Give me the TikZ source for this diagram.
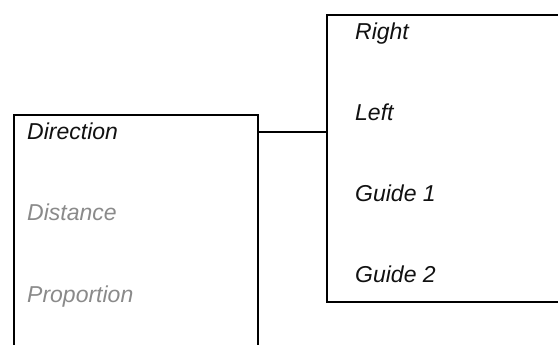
\documentclass[tikz,border=0pt]{standalone}
\usepackage{fontspec}
\setmainfont{Liberation Sans}
\newfontfamily\labelfont{Liberation Sans}
\usepackage{xcolor}
\usepackage{tikz}
\definecolor{lblblack}{HTML}{111111}
\definecolor{lblgray}{HTML}{8A8A8A}
\tikzset{
  panel/.style={draw=black,line width=2pt,inner sep=0pt},
  item/.style={anchor=base west,inner sep=0pt,text=lblblack,font=\labelfont\itshape\fontsize{23}{27}\selectfont},
  itemoff/.style={item,text=lblgray},
  link/.style={draw=black,line width=2pt}
}
\begin{document}
\begin{tikzpicture}[x=1pt,y=-1pt]
  \useasboundingbox (0,0) rectangle (558,345);
  \clip (0,0) rectangle (558,345);
  \draw[panel] (14,115) rectangle (258,360);
  \coordinate (leftbox-ne) at (258,115);
  \draw[panel] (327,15) rectangle (580,302);
  \coordinate (rightbox-nw) at (327,15);
  \node[item] (direction) at (27,140) {Direction};
  \node[itemoff] (distance) at (27,221) {Distance};
  \node[itemoff] (proportion) at (27,302) {Proportion};
  \node[item] (right) at (355,40) {Right};
  \node[item] (left) at (355,121) {Left};
  \node[item] (guide1) at (355,202) {Guide 1};
  \node[item] (guide2) at (355,283) {Guide 2};
  \coordinate (hook) at (0,132);
  \draw[link] (hook -| leftbox-ne) -- (hook -| rightbox-nw);
\end{tikzpicture}
\end{document}
